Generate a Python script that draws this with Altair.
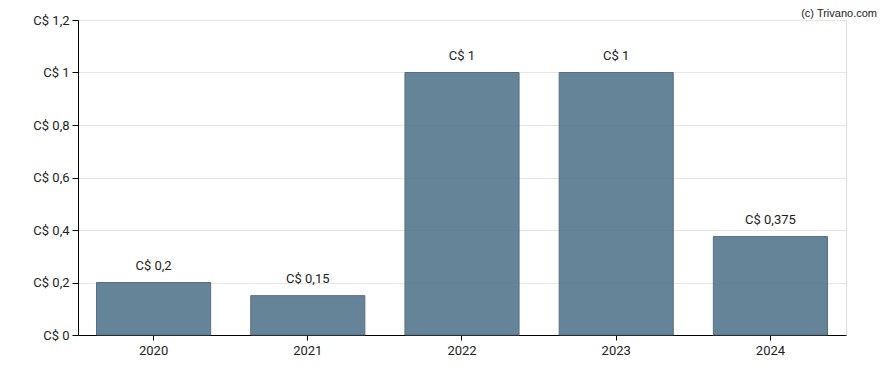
import altair as alt
import pandas as pd

years = ["2020", "2021", "2022", "2023", "2024"]
dividends = [0.2, 0.15, 1.0, 1.0, 0.375]
labels = ["C$ 0,2", "C$ 0,15", "C$ 1", "C$ 1", "C$ 0,375"]
y_ticks = [0, 0.2, 0.4, 0.6, 0.8, 1.0, 1.2]
credit_text = ["(c) Trivano.com"]

df = pd.DataFrame({"year": years, "value": dividends, "label": labels})
credit_df = pd.DataFrame({"t": credit_text})

FONT = "Roboto"

x = alt.X("year:N", title=None,
          scale=alt.Scale(paddingInner=0.26, paddingOuter=0.12),
          axis=alt.Axis(labelAngle=0, labelFont=FONT, labelFontSize=13, labelColor="#222",
                        domainColor="#000", tickColor="#000", tickSize=5, labelPadding=4,
                        grid=False))
y = alt.Y("value:Q", title=None,
          scale=alt.Scale(domain=[0, 1.2], nice=False),
          axis=alt.Axis(values=y_ticks, labelFont=FONT, labelFontSize=13, labelColor="#222",
                        labelExpr="'C$ ' + replace(format(datum.value, '~g'), '.', ',')",
                        domainColor="#000", tickColor="#000", tickSize=6, labelPadding=3,
                        gridColor="#e6e6e6", grid=True))

bars = alt.Chart(df).mark_bar(color="#5a7a90", opacity=0.92, stroke="#4a6378",
                              strokeWidth=1).encode(x=x, y=y)
text = alt.Chart(df).mark_text(baseline="bottom", dy=-10, font=FONT, fontSize=13,
                               color="#222").encode(x="year:N", y="value:Q", text="label:N")
credit = alt.Chart(credit_df).mark_text(align="right", baseline="top",
                                        font="Liberation Sans", fontSize=11,
                                        color="#222").encode(
    x=alt.value(799), y=alt.value(-12), text="t:N")

chart = alt.layer(bars, text, credit).properties(
    width=768, height=315,
    autosize=alt.AutoSizeParams(type="none"),
    padding={"left": 70, "top": 12, "right": 34, "bottom": 24},
).configure_view(stroke=None).configure(background="white")

chart.save("out.html", embed_options={"renderer": "svg", "actions": False})
